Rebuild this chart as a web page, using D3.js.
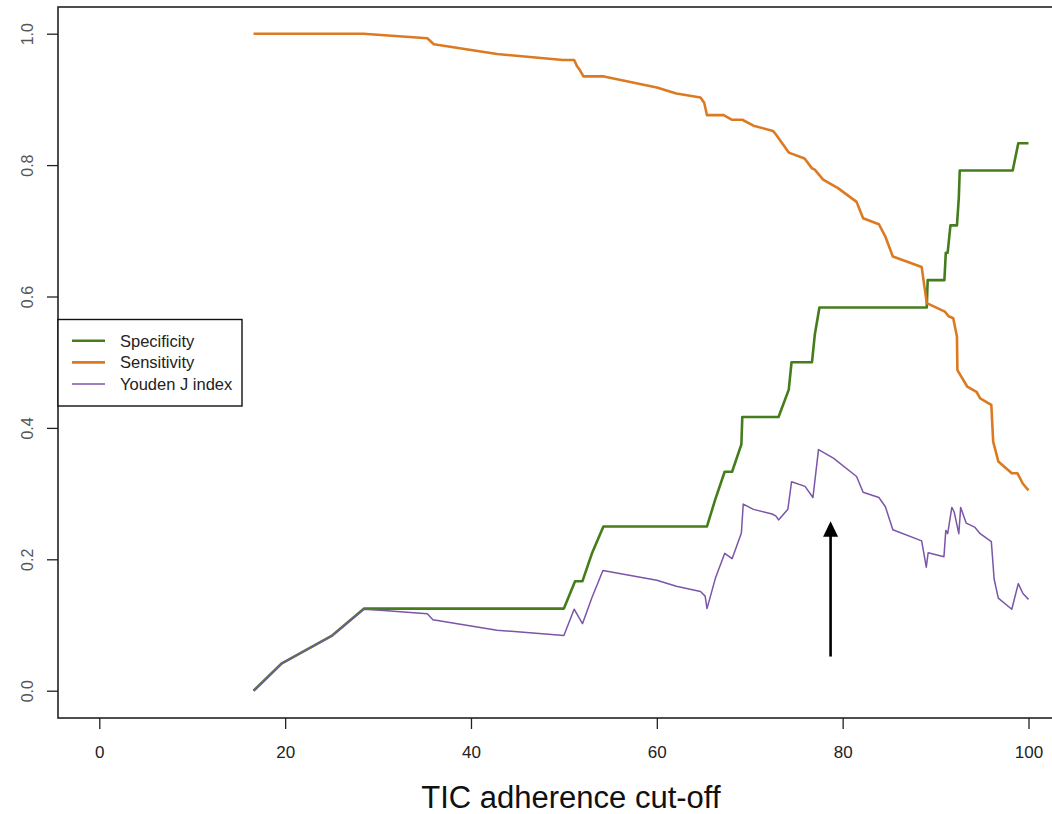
<!DOCTYPE html>
<html>
<head>
<meta charset="utf-8">
<script src="https://cdn.jsdelivr.net/npm/d3@7"></script>
<style>
  html, body { margin: 0; padding: 0; background: #fff; }
  svg { display: block; font-family: "Liberation Sans", Arial, Helvetica, sans-serif; }
</style>
</head>
<body>
<svg id="chart" width="1052" height="814"></svg>
<script>
// ---- data ----
const cutSe = [16.6, 28.4, 35.3, 36.0, 42.8, 49.9, 51.1, 51.4, 51.7, 52.1, 54.3, 60.0, 62.1, 64.7, 65.1, 65.4, 67.2, 68.1, 69.2, 70.4, 72.5, 72.8, 74.2, 75.9, 76.7, 77.0, 77.9, 79.5, 81.5, 82.2, 83.9, 84.6, 85.4, 88.5, 89.05, 91.0, 91.4, 91.9, 92.3, 92.35, 93.4, 94.4, 94.8, 96.0, 96.2, 96.75, 98.2, 98.8, 99.4, 100];
const sensitivity = [1.000, 1.000, 0.993, 0.984, 0.969, 0.960, 0.960, 0.951, 0.945, 0.935, 0.935, 0.918, 0.909, 0.903, 0.895, 0.876, 0.876, 0.869, 0.869, 0.860, 0.852, 0.847, 0.819, 0.810, 0.795, 0.793, 0.778, 0.765, 0.744, 0.719, 0.710, 0.691, 0.661, 0.645, 0.590, 0.577, 0.570, 0.567, 0.539, 0.488, 0.463, 0.455, 0.445, 0.435, 0.379, 0.349, 0.331, 0.331, 0.315, 0.305];

const cutSp = [16.6, 19.65, 25.0, 28.5, 50.0, 51.2, 52.0, 53.0, 54.25, 65.4, 66.3, 67.3, 68.1, 69.1, 69.2, 73.1, 74.2, 74.5, 76.7, 77.0, 77.5, 89.05, 89.15, 90.95, 91.1, 91.3, 91.6, 92.3, 92.5, 92.6, 98.3, 98.9, 100];
const specificity = [0, 0.0417, 0.0833, 0.125, 0.125, 0.1667, 0.1667, 0.2083, 0.25, 0.25, 0.2917, 0.3333, 0.3333, 0.375, 0.4167, 0.4167, 0.4583, 0.5, 0.5, 0.5417, 0.5833, 0.5833, 0.625, 0.625, 0.6667, 0.6667, 0.7083, 0.7083, 0.75, 0.7917, 0.7917, 0.8333, 0.8333];

const cutJ = [16.6, 19.65, 25.0, 28.5, 30.6, 35.3, 35.9, 42.8, 50.0, 51.1, 52.0, 53.0, 54.2, 60.0, 62.1, 64.7, 65.2, 65.4, 66.3, 67.3, 68.1, 69.1, 69.3, 70.4, 72.4, 72.8, 73.1, 74.1, 74.5, 75.95, 76.8, 77.4, 79.0, 81.5, 82.2, 83.9, 84.6, 85.4, 88.5, 89.0, 89.2, 90.9, 91.1, 91.3, 91.75, 92.0, 92.5, 92.7, 93.3, 94.2, 94.8, 96.0, 96.3, 96.75, 98.2, 98.9, 99.4, 100];
const youden = [0, 0.042, 0.083, 0.124, 0.122, 0.117, 0.108, 0.092, 0.084, 0.124, 0.102, 0.141, 0.183, 0.168, 0.159, 0.151, 0.144, 0.125, 0.171, 0.209, 0.201, 0.240, 0.284, 0.276, 0.269, 0.266, 0.260, 0.276, 0.318, 0.311, 0.294, 0.367, 0.354, 0.326, 0.302, 0.294, 0.280, 0.245, 0.228, 0.188, 0.210, 0.204, 0.244, 0.239, 0.279, 0.272, 0.239, 0.279, 0.255, 0.249, 0.239, 0.227, 0.170, 0.141, 0.124, 0.163, 0.148, 0.139];

const xTicks = [0, 20, 40, 60, 80, 100];
const yTicks = [0.0, 0.2, 0.4, 0.6, 0.8, 1.0];
const seriesNames = ["Specificity", "Sensitivity", "Youden J index"];
const xTitle = "TIC adherence cut-off";
// annotation arrow: x position, start and end value
const arrowX = 78.7, arrowFrom = 0.052, arrowTo = 0.258;

// ---- layout ----
const svg = d3.select("#chart");
const box = { left: 58, top: 7, right: 1070, bottom: 718 };
const x = d3.scaleLinear().domain([0, 100]).range([99.3, 1028.5]);
const y = d3.scaleLinear().domain([0, 1]).range([690.7, 33.7]);

const colors = { sp: "#457d1c", se: "#dc7a22", j: "#7a55a8" };

// plot box
svg.append("rect")
  .attr("x", box.left).attr("y", box.top)
  .attr("width", box.right - box.left).attr("height", box.bottom - box.top)
  .attr("fill", "none").attr("stroke", "#222").attr("stroke-width", 1.6);

// x axis
const xAxis = svg.append("g").attr("transform", `translate(0,${box.bottom})`)
  .call(d3.axisBottom(x).tickValues(xTicks).tickFormat(d3.format("d")).tickSize(11).tickPadding(17));
xAxis.select(".domain").remove();
xAxis.selectAll("line").attr("stroke", "#222").attr("stroke-width", 1.3);
xAxis.selectAll("text").attr("font-size", 17).attr("fill", "#222")
  .attr("font-family", "'Liberation Sans', Arial, sans-serif");

// y axis
const yAxis = svg.append("g").attr("transform", `translate(${box.left},0)`)
  .call(d3.axisLeft(y).tickValues(yTicks).tickFormat(d3.format(".1f")).tickSize(11).tickPadding(0));
yAxis.select(".domain").remove();
yAxis.selectAll("line").attr("stroke", "#222").attr("stroke-width", 1.3);
yAxis.selectAll("text")
  .attr("font-size", 16).attr("fill", "#555")
  .attr("text-anchor", "middle").attr("dy", null)
  .attr("x", null)
  .attr("transform", d => `translate(-31,${0}) rotate(-90)`)
  .attr("dominant-baseline", "central");

// x title
svg.append("text")
  .attr("x", (x(0) + x(100)) / 2 + 7).attr("y", 808)
  .attr("text-anchor", "middle").attr("font-size", 31).attr("fill", "#111")
  .text(xTitle);

// lines
const line = d3.line().x(d => x(d[0])).y(d => y(d[1]));
const spData = cutSp.map((c, i) => [c, specificity[i]]);
const seData = cutSe.map((c, i) => [c, sensitivity[i]]);
const jData = cutJ.map((c, i) => [c, youden[i]]);

svg.append("path").attr("d", line(spData)).attr("fill", "none")
  .attr("stroke", colors.sp).attr("stroke-width", 2.6).attr("stroke-linejoin", "round");
svg.append("path").attr("d", line(seData)).attr("fill", "none")
  .attr("stroke", colors.se).attr("stroke-width", 2.6).attr("stroke-linejoin", "round");
svg.append("path").attr("d", line(jData)).attr("fill", "none")
  .attr("stroke", colors.j).attr("stroke-width", 1.5).attr("stroke-linejoin", "round");

// arrow
const ax = x(arrowX), ay0 = y(arrowFrom), ay1 = y(arrowTo);
svg.append("line").attr("x1", ax).attr("x2", ax).attr("y1", ay0).attr("y2", ay1 + 14)
  .attr("stroke", "#000").attr("stroke-width", 2.6);
svg.append("path")
  .attr("d", `M${ax},${ay1} L${ax - 7.5},${ay1 + 15.5} L${ax + 7.5},${ay1 + 15.5} Z`)
  .attr("fill", "#000");

// legend
const lg = svg.append("g");
lg.append("rect").attr("x", 58).attr("y", 319.5).attr("width", 184).attr("height", 86.5)
  .attr("fill", "#fff").attr("stroke", "#111").attr("stroke-width", 1.4);
const lgColors = [colors.sp, colors.se, colors.j];
const lgWidths = [2.6, 2.6, 1.5];
seriesNames.forEach((name, i) => {
  const yy = 340.7 + i * 21.7;
  lg.append("line").attr("x1", 72).attr("x2", 105).attr("y1", yy).attr("y2", yy)
    .attr("stroke", lgColors[i]).attr("stroke-width", lgWidths[i]);
  lg.append("text").attr("x", 120).attr("y", yy).attr("dominant-baseline", "central")
    .attr("font-size", 16.5).attr("fill", "#222").text(name);
});
</script>
</body>
</html>
